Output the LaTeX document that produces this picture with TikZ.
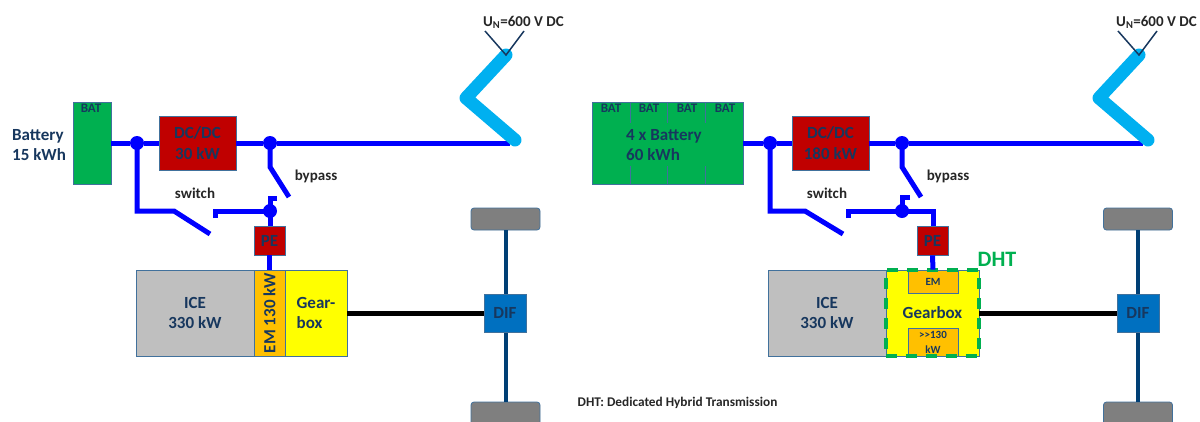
\documentclass[tikz,border=0pt]{standalone}
\usepackage{fontspec}
\setmainfont{Carlito}
\usetikzlibrary{positioning}
\definecolor{labelnavy}{HTML}{17375E}
\definecolor{boxedge}{HTML}{41719C}
\definecolor{busblue}{HTML}{0000FF}
\definecolor{pantoblue}{HTML}{00B0F0}
\definecolor{axlenavy}{HTML}{003F75}
\definecolor{batgreen}{HTML}{00B050}
\definecolor{dhtgreen}{HTML}{00B050}
\definecolor{pered}{HTML}{C00000}
\definecolor{emorange}{HTML}{FFC000}
\definecolor{icegray}{HTML}{BFBFBF}
\definecolor{wheelgray}{HTML}{7F7F7F}
\definecolor{difblue}{HTML}{0070C0}
\definecolor{gearyellow}{RGB}{255,255,0}
\tikzset{
  box/.style={draw=boxedge, line width=0.8pt, inner sep=0pt, align=center, text=labelnavy,
    font=\bfseries\fontsize{17}{20.5}\selectfont},
  batbox/.style={box, fill=batgreen},
  redbox/.style={box, fill=pered},
  icebox/.style={box, fill=icegray},
  embox/.style={box, fill=emorange},
  gearbox/.style={box, fill=gearyellow},
  difbox/.style={box, fill=difblue},
  wheelbox/.style={draw=boxedge, line width=0.8pt, fill=wheelgray, rounded corners=3pt, minimum width=69pt, inner sep=0pt},
  junction/.style={circle, fill=busblue, minimum size=14pt, inner sep=0pt},
  bus/.style={draw=busblue, line width=5pt},
  shaft/.style={draw=black, line width=5pt},
  axle/.style={draw=axlenavy, line width=4pt},
  panto/.style={draw=pantoblue, line width=13pt, line cap=round, line join=round},
  contact/.style={draw=labelnavy, line width=1.5pt},
  note/.style={text=black!85, inner sep=0pt, font=\bfseries\fontsize{15}{17}\selectfont},
  batlabel/.style={text=labelnavy, inner sep=0pt, font=\bfseries\fontsize{13}{14}\selectfont}
}
\begin{document}
\begin{tikzpicture}[x=1pt, y=-1pt]
  \useasboundingbox (0,0) rectangle (1200,421);
  % axles and wheels
  \foreach \name/\x in {l/505.5, r/1138} {
    \node[wheelbox, minimum height=22pt] (wt\name) at (\x,219) {};
    \node[wheelbox, minimum height=23pt] (wb\name) at (\x,413.5) {};
    \draw[axle] (wt\name) -- (wb\name);
  }

  % left drive train
  \node[batbox, minimum width=38pt, minimum height=82pt] (batl) at (92,143) {};
  \node[batlabel] (batltext) at (91,108.5) {BAT};
  \node[text=labelnavy, align=left, inner sep=0pt, font=\bfseries\fontsize{17}{20}\selectfont, anchor=west] (batlname) at (12,145) {Battery\\15 kWh};
  \node[junction] (j1l) at (137,143) {};
  \node[redbox, minimum width=77pt, minimum height=54pt] (dcl) at (197.5,143) {DC/DC\\30 kW};
  \node[junction] (j2l) at (270,143) {};
  \node[junction] (j3l) at (270,211) {};
  \node[redbox, minimum width=31pt, minimum height=29pt] (pel) at (269.5,240.5) {PE};
  \node[icebox, minimum width=118pt, minimum height=86pt] (icel) at (195,313) {ICE\\330 kW};
  \node[embox, minimum width=86pt, minimum height=31pt, rotate=90] (eml) at (269.5,313) {EM 130 kW};
  \node[gearbox, minimum width=62pt, minimum height=86pt, align=left] (gbl) at (316,313) {Gear-\\box\phantom{r-}};
  \node[difbox, minimum width=42pt, minimum height=38pt] (difl) at (505,313) {DIF};
  \node[note] (swl) at (195,193) {switch};
  \node[note] (bpl) at (316,176) {bypass};

  \coordinate (busendl) at (510,143);
  \coordinate (a1l) at (137,211);
  \coordinate (a2l) at (174,211);
  \coordinate (a3l) at (210,234);
  \coordinate (c1l) at (215,218);
  \coordinate (c2l) at (215,211);
  \coordinate (b1l) at (270,167);
  \coordinate (b2l) at (289,197);
  \coordinate (s1l) at (277,198);
  \coordinate (s2l) at (270,198);

  \draw[bus] (batl.east |- j1l) -- (j1l);
  \draw[bus] (j1l) -- (dcl);
  \draw[bus] (dcl) -- (j2l);
  \draw[bus] (j2l) -- (busendl);
  \draw[bus] (j1l.center) -- (a1l) -- (a2l) -- (a3l);
  \draw[bus] (j2l.center) -- (b1l) -- (b2l);
  \draw[bus] (c1l) -- (c2l) -- (j3l.center);
  \draw[bus] (s1l) -- (s2l) -- (j3l.center);
  \draw[bus] (j3l.center) -- (j3l |- pel.north);
  \draw[bus] (pel.south) -- (pel.south |- eml.east);
  \draw[shaft] (gbl.east) -- (difl.west);

  % right drive train
  \node[batbox, minimum width=151pt, minimum height=82pt, align=left] (batr) at (667.5,143) {};
  \foreach \i/\x in {1/611, 2/649, 3/687, 4/725} {
    \node[batlabel] (batrt\i) at (\x,108.5) {BAT};
  }
  \foreach \i/\x in {1/630, 2/667.5, 3/705.5} {
    \coordinate (t\i) at (\x,102);
    \coordinate (u\i) at (\x,123);
    \coordinate (v\i) at (\x,166);
    \coordinate (w\i) at (\x,184);
    \draw[draw=boxedge, line width=0.8pt] (t\i) -- (u\i) (v\i) -- (w\i);
  }
  \node[text=labelnavy, align=left, inner sep=0pt, font=\bfseries\fontsize{17}{20}\selectfont, anchor=west] (batrname) at (626,145) {4 x Battery\\60 kWh};
  \node[junction] (j1r) at (770,143) {};
  \node[redbox, minimum width=77pt, minimum height=54pt] (dcr) at (830.5,143) {DC/DC\\180 kW};
  \node[junction] (j2r) at (902,143) {};
  \node[junction] (j3r) at (902,211) {};
  \node[redbox, minimum width=31pt, minimum height=29pt] (per) at (932.5,240.5) {PE};
  \node[icebox, minimum width=118pt, minimum height=86pt] (icer) at (827,313) {ICE\\330 kW};
  \node[gearbox, minimum width=93pt, minimum height=86pt] (gbr) at (932.5,313) {Gearbox};
  \node[embox, minimum width=50pt, minimum height=23pt, font=\bfseries\fontsize{11}{12}\selectfont] (emr) at (933,281.5) {EM};
  \node[embox, minimum width=50pt, minimum height=28pt, font=\bfseries\fontsize{11}{15}\selectfont] (pwr) at (933,342) {>{}>130\\kW};
  \node[draw=dhtgreen, line width=4pt, dash pattern=on 11pt off 9pt, minimum width=93pt, minimum height=86pt, inner sep=0pt] (dht) at (932.5,313) {};
  \node[text=dhtgreen, inner sep=0pt, font=\bfseries\fontsize{22}{22}\selectfont] (dhttext) at (997,259) {DHT};
  \node[difbox, minimum width=42pt, minimum height=38pt] (difr) at (1138,313) {DIF};
  \node[note] (swr) at (827,193) {switch};
  \node[note] (bpr) at (948,176) {bypass};
  \node[note, font=\bfseries\fontsize{13.3}{15}\selectfont] (dhtnote) at (677.5,403) {DHT:  Dedicated Hybrid Transmission};

  \coordinate (busendr) at (1143,143);
  \coordinate (a1r) at (770,211);
  \coordinate (a2r) at (805,211);
  \coordinate (a3r) at (843,234);
  \coordinate (c1r) at (848,218);
  \coordinate (c2r) at (848,211);
  \coordinate (b1r) at (902,167);
  \coordinate (b2r) at (921,197);
  \coordinate (s1r) at (910,197);
  \coordinate (s2r) at (902,197);
  \coordinate (k1r) at (933,211);

  \draw[bus] (batr.east |- j1r) -- (j1r);
  \draw[bus] (j1r) -- (dcr);
  \draw[bus] (dcr) -- (j2r);
  \draw[bus] (j2r) -- (busendr);
  \draw[bus] (j1r.center) -- (a1r) -- (a2r) -- (a3r);
  \draw[bus] (j2r.center) -- (b1r) -- (b2r);
  \draw[bus] (c1r) -- (c2r) -- (j3r.center);
  \draw[bus] (s1r) -- (s2r) -- (j3r.center);
  \draw[bus] (j3r.center) -- (k1r) -- (k1r |- per.north);
  \draw[bus] (per.south) -- (emr.north);
  \draw[shaft] (gbr.east) -- (difr.west);

  % pantographs
  \foreach \name/\x in {l/0, r/633} {
    \coordinate (p1\name) at (515+\x,140);
    \coordinate (p2\name) at (466+\x,98);
    \coordinate (p3\name) at (506+\x,55);
    \coordinate (v1\name) at (485+\x,31);
    \coordinate (v2\name) at (524+\x,31);
    \draw[panto] (p1\name) -- (p2\name) -- (p3\name);
    \draw[contact] (v1\name) -- (p3\name) -- (v2\name);
    \node[note, anchor=west] (un\name) at (483+\x,22) {U\textsubscript{N}=600 V DC};
  }
\end{tikzpicture}
\end{document}
